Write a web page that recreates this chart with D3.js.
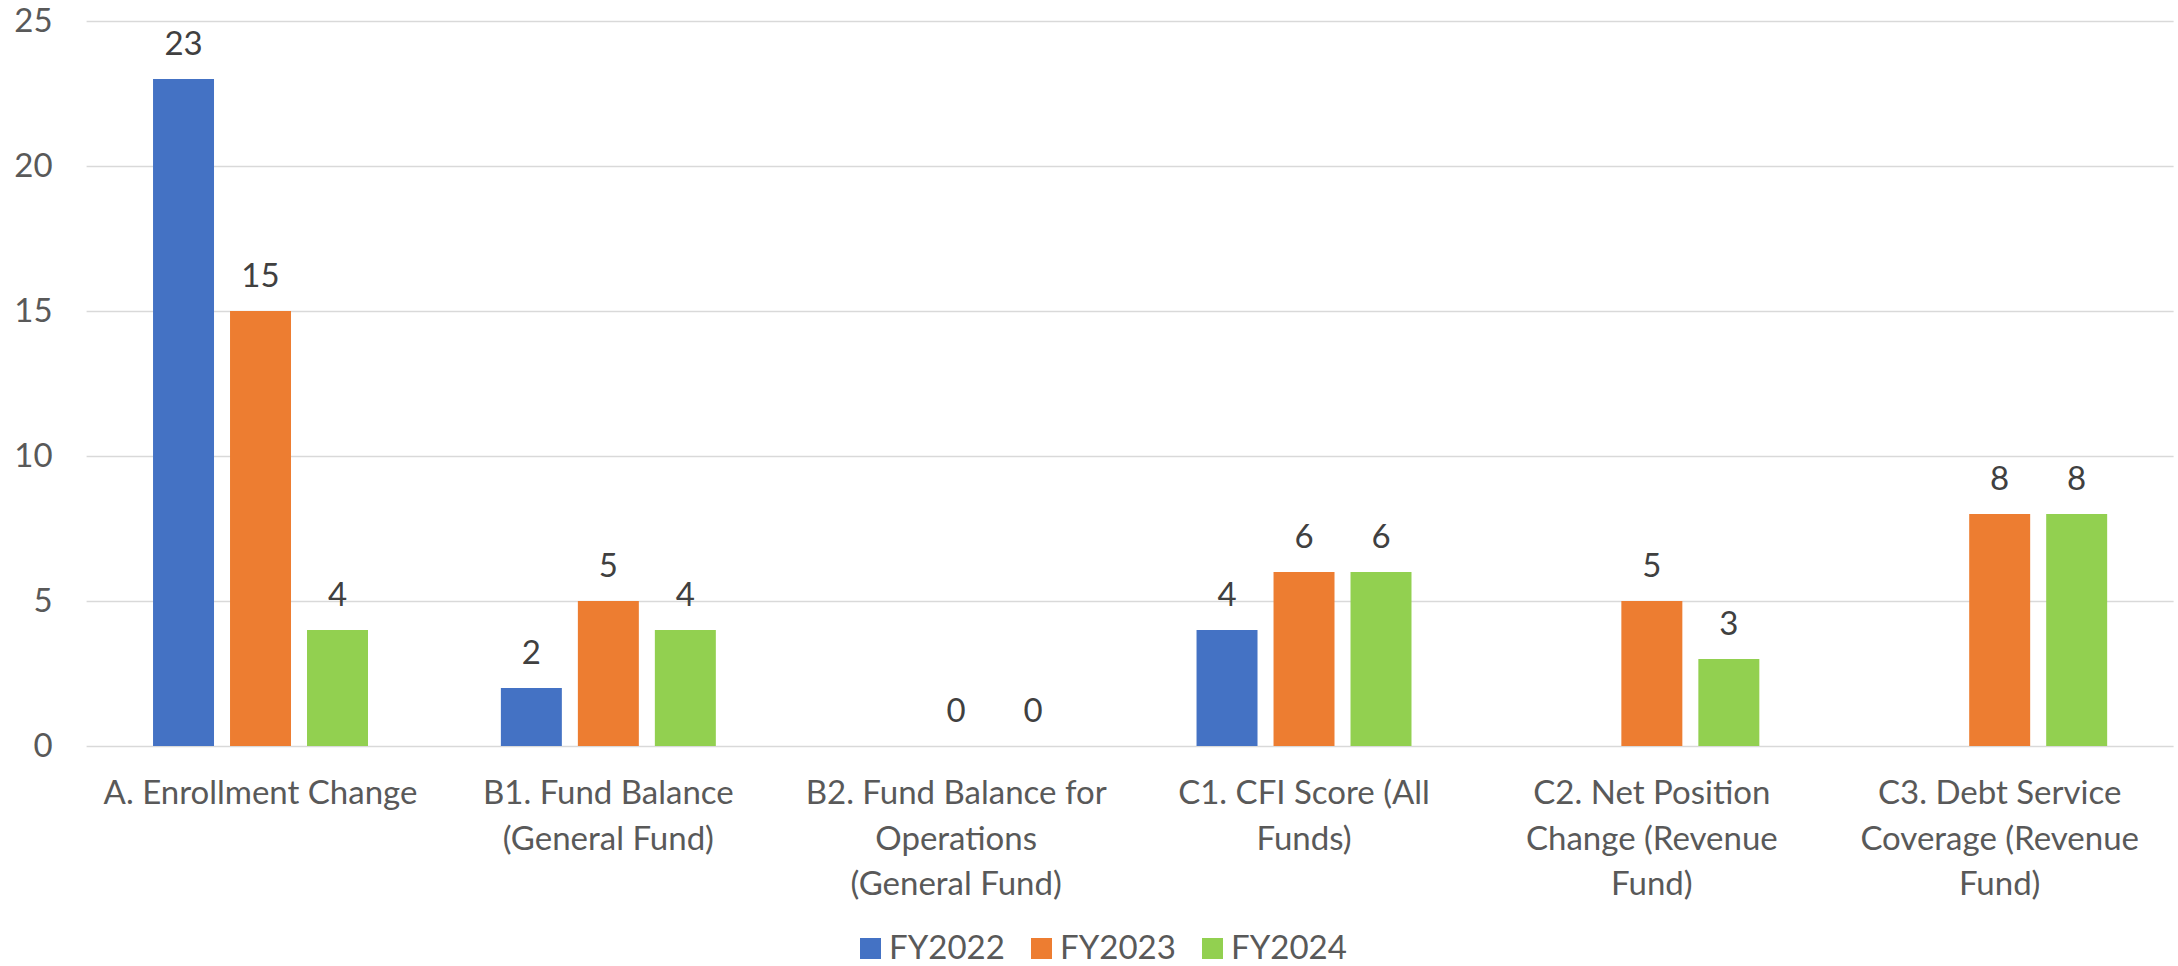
<!DOCTYPE html>
<html><head><meta charset="utf-8">
<script src="https://cdn.jsdelivr.net/npm/d3@7"></script>
<style>html,body{margin:0;padding:0;background:#fff;}svg{display:block;}</style>
</head><body>
<svg id="chart" width="2178" height="966"></svg>
<script>
const categories = [
  ["A. Enrollment Change"],
  ["B1. Fund Balance", "(General Fund)"],
  ["B2. Fund Balance for", "Operations", "(General Fund)"],
  ["C1. CFI Score (All", "Funds)"],
  ["C2. Net Position", "Change (Revenue", "Fund)"],
  ["C3. Debt Service", "Coverage (Revenue", "Fund)"]
];
const seriesNames = ["FY2022", "FY2023", "FY2024"];
const fy2022 = [23, 2, null, 4, null, null];
const fy2023 = [15, 5, 0, 6, 5, 8];
const fy2024 = [4, 4, 0, 6, 3, 8];
const yTicks = [0, 5, 10, 15, 20, 25];
const colors = ["#4472C4", "#ED7D31", "#92D050"];

(function () {
const series = [fy2022, fy2023, fy2024];
const svg = d3.select("#chart");
const FONT = "Lato, 'Open Sans', sans-serif";
const FS = 33;
const pLeft = 86.6, pRight = 2173.6, pTop = 21, pBottom = 746;

const x0 = d3.scaleBand().domain(d3.range(categories.length)).range([pLeft, pRight])
  .paddingInner(0.382).paddingOuter(0.191);
const x1 = d3.scaleBand().domain(d3.range(seriesNames.length)).range([0, x0.bandwidth()])
  .paddingInner(0.208).paddingOuter(0);
const y = d3.scaleLinear().domain([0, 25]).range([pBottom, pTop]);

const yAxis = d3.axisLeft(y).tickValues(yTicks).tickSize(-(pRight - pLeft)).tickPadding(34).tickFormat(d3.format("d"));
const gy = svg.append("g").attr("transform", `translate(${pLeft},0)`).call(yAxis);
gy.select(".domain").remove();
gy.selectAll(".tick line").attr("stroke", "#d9d9d9").attr("stroke-width", 1.5);
gy.selectAll(".tick text").attr("font-family", FONT).attr("font-size", FS).attr("fill", "#595959");

const groups = svg.append("g").selectAll("g").data(categories).join("g")
  .attr("transform", (d, i) => `translate(${x0(i)},0)`);
groups.each(function(cat, ci) {
  const g = d3.select(this);
  series.forEach((s, si) => {
    const v = s[ci];
    if (v === null || v === undefined) return;
    g.append("rect").attr("x", x1(si)).attr("width", x1.bandwidth())
      .attr("y", y(v)).attr("height", y(0) - y(v)).attr("fill", colors[si]);
    g.append("text").attr("x", x1(si) + x1.bandwidth() / 2).attr("y", y(v) - 24)
      .attr("text-anchor", "middle").attr("font-family", FONT).attr("font-size", FS)
      .attr("fill", "#404040").text(v);
  });
});

const xl = svg.append("g");
categories.forEach((lines, i) => {
  const t = xl.append("text").attr("text-anchor", "middle").attr("font-family", FONT)
    .attr("font-size", FS).attr("fill", "#595959");
  lines.forEach((ln, k) => {
    t.append("tspan").attr("x", x0(i) + x0.bandwidth() / 2).attr("y", pBottom + 58 + k * 45.5).text(ln);
  });
});

const legend = svg.append("g");
const itemW = 171, lx0 = 860;
seriesNames.forEach((n, i) => {
  const gx = lx0 + i * itemW;
  legend.append("rect").attr("x", gx).attr("y", 938).attr("width", 21).attr("height", 21).attr("fill", colors[i]);
  legend.append("text").attr("x", gx + 29).attr("y", 959).attr("font-family", FONT)
    .attr("font-size", FS).attr("fill", "#595959").text(n);
});
})();
</script>
</body></html>
